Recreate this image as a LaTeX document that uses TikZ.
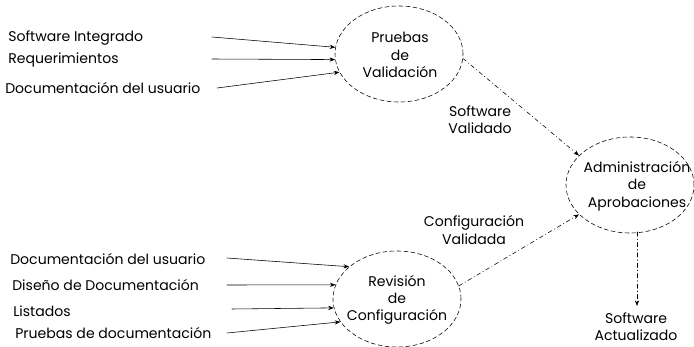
\documentclass[tikz,border=0pt]{standalone}
\usepackage{fontspec}
\setmainfont{Poppins}
\usepackage{tikz}
\usetikzlibrary{arrows.meta,calc,shapes.geometric}

\begin{document}
\begin{tikzpicture}[x=0.025cm,y=-0.025cm,>={Stealth[length=4pt,width=3pt]},
  line cap=round,line join=round,
  font=\fontsize{10}{12.3}\selectfont,
  proceso/.style={ellipse,draw,thin,densely dashed,minimum width=3.2cm,
    minimum height=2.4cm,inner sep=0pt},
  entrada/.style={anchor=west,inner sep=0pt},
  flujo/.style={->,thin},
  salida/.style={->,thin,dash dot},
  info/.style={align=center,inner sep=0pt}]
\path[use as bounding box] (0,0) rectangle (694,347);
% procesos
\node[proceso] (pv) at (399,54) {};
\node[proceso] (ap) at (630,185) {};
\node[proceso] (rc) at (397,299) {};
\node[info] (pvt) at (400,55) {Pruebas\\de\\Validación};
\node[info] (apt) at (637,186) {Administración\\de\\Aprobaciones};
\node[info] (rct) at (397,300) {Revisión\\de\\Configuración};
% entradas de las pruebas de validación
\node[entrada] (si) at (8,38) {Software Integrado};
\node[entrada] (rq) at (8,60) {Requerimientos};
\node[entrada] (du) at (5,88) {Documentación del usuario};
\coordinate (si0) at (212,37);
\coordinate (rq0) at (212,59);
\coordinate (du0) at (217,88);
\draw[flujo] (si0)--(pv.174);
\draw[flujo] (rq0)--(pv.185);
\draw[flujo] (du0)--(pv.197);
% entradas de la revisión de configuración
\node[entrada] (dub) at (10,259) {Documentación del usuario};
\node[entrada] (dd) at (12,285) {Diseño de Documentación};
\node[entrada] (ls) at (13,311) {Listados};
\node[entrada] (pd) at (15,333) {Pruebas de documentación};
\coordinate (dub0) at (227,258);
\coordinate (dd0) at (227,285);
\coordinate (ls0) at (232,309);
\coordinate (pd0) at (227,333);
\draw[flujo] (dub0)--(rc.146);
\draw[flujo] (dd0)--(rc.167);
\draw[flujo] (ls0)--(rc.188);
\draw[flujo] (pd0)--(rc.202);
% salidas
\draw[salida] (pv.356)--(ap.150);
\draw[salida] (rc.12)--(ap.210);
\coordinate (ap0) at (637,232);
\coordinate (sa0) at (637,306);
\draw[salida] (ap0)--(sa0);
\node[info] (sv) at (480,120) {Software\\Validado};
\node[info] (cv) at (474,230) {Configuración\\Validada};
\node[info] (sa) at (636,327) {Software\\Actualizado};
\end{tikzpicture}
\end{document}
